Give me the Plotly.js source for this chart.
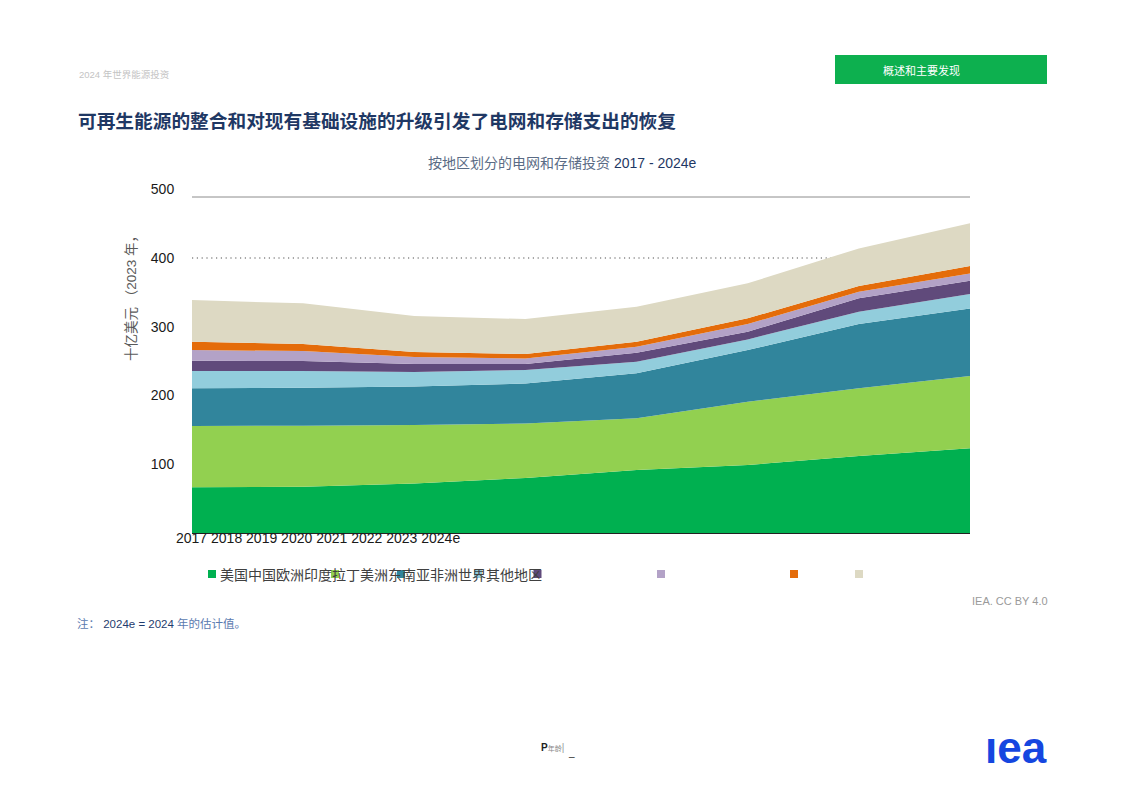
<!DOCTYPE html>
<html><head><meta charset="utf-8">
<script src="https://cdn.plot.ly/plotly-3.0.1.min.js"></script>
<style>html,body{margin:0;padding:0;background:#fff}#chart{width:1123px;height:794px}</style>
</head><body><div id="chart"></div>
<script>
// ---- data (USD billion, 2023) ----
const years = ['2017','2018','2019','2020','2021','2022','2023','2024e'];
const regions = ['美国','中国','欧洲','印度','拉丁美洲','东南亚','非洲','世界其他地区'];
const usa    = [66.5, 67.3, 72.0, 80.0, 91.6, 98.9, 112.0, 123.2];
const china  = [89.1, 88.8, 85.1, 79.3, 75.2, 92.1, 98.5, 105.2];
const europe = [54.9, 55.2, 56.0, 58.2, 65.5, 75.2, 93.5, 98.4];
const india  = [25.1, 24.3, 21.1, 19.6, 16.9, 15.5, 17.9, 20.8];
const latam  = [15.0, 14.6, 11.6, 8.7, 13.1, 11.1, 19.5, 19.4];
const sea    = [15.6, 14.5, 10.2, 8.0, 8.7, 11.2, 9.6, 10.7];
const africa = [12.1, 10.2, 7.3, 6.6, 7.3, 8.3, 8.3, 10.7];
const row    = [60.6, 59.2, 52.3, 50.9, 50.9, 50.9, 54.8, 62.1];
const yTicks = [100, 200, 300, 400, 500];

const series = [usa, china, europe, india, latam, sea, africa, row];
const colors = ['#00B050','#92D050','#31859C','#92CDDC','#604A7B','#B3A2C7','#E46C0A','#DDD9C3'];

// plot-area geometry in page pixels
const W = 1123, H = 794, L = 192, R = 970, T = 189, B = 533;
const px = x => (x - L) / (R - L);
const py = y => (B - y) / (B - T);

const traces = series.map((s, i) => ({
  type: 'scatter', x: years, y: s, name: regions[i],
  stackgroup: 'one', mode: 'none', fillcolor: colors[i],
  hoverinfo: 'skip', showlegend: false
}));

const CJK = 'Noto Sans CJK SC, Liberation Sans, sans-serif';
const LAT = 'Liberation Sans, Arial, Noto Sans CJK SC, sans-serif';

const legendX = [212, 335, 401, 478, 537.5, 661, 794, 859];
const shapes = [
  {type:'line', xref:'paper', yref:'paper', x0:0, x1:1, y0:py(197), y1:py(197), line:{color:'#8c8c8c', width:1}, layer:'below'},
  {type:'line', xref:'paper', yref:'y', x0:0, x1:1, y0:400, y1:400, line:{color:'#8a8a8a', width:1.4, dash:'1.2px,3.6px'}, layer:'below'},
  {type:'rect', xref:'paper', yref:'paper', x0:px(835), x1:px(1047), y0:py(84), y1:py(55), fillcolor:'#0DB04F', line:{width:0}, layer:'above'}
];
legendX.forEach((cx, i) => shapes.push({
  type:'rect', xref:'paper', yref:'paper', x0:px(cx-4), x1:px(cx+4), y0:py(578), y1:py(570),
  fillcolor: colors[i], line:{width:0}, layer:'above'
}));

const annotations = [
  {text:'2024 年世界能源投资', x:px(77), y:py(74), xanchor:'left', yanchor:'middle', font:{family:LAT, size:9.5, color:'#c4c4c4'}},
  {text:'概述和主要发现', x:px(881), y:py(70), xanchor:'left', yanchor:'middle', font:{family:CJK, size:11, color:'#ffffff'}},
  {text:'<b>可再生能源的整合和对现有基础设施的升级引发了电网和存储支出的恢复</b>', x:px(76), y:py(119), xanchor:'left', yanchor:'middle', font:{family:CJK, size:18.7, color:'#1F3864'}},
  {text:'<span style="color:#5a6b85">按地区划分的电网和存储投资</span> <span style="color:#1F3864">2017 - 2024e</span>', x:px(562), y:py(163), xanchor:'center', yanchor:'middle', font:{family:LAT, size:14}},
  {text:'十亿美元 （2023 年，', textangle:-90, x:px(131), y:py(295), xanchor:'center', yanchor:'middle', font:{family:LAT, size:13.5, color:'#595959'}},
  {text: years.join(' '), x:px(174), y:py(538), xanchor:'left', yanchor:'middle', font:{family:LAT, size:14, color:'#1a1a1a'}},
  {text: regions.join(''), x:px(218), y:py(574), xanchor:'left', yanchor:'middle', font:{family:CJK, size:14, color:'#404040'}},
  {text:'<span style="color:#5b7bb0">注：</span> <span style="color:#1F3C6E">2024e = 2024</span> <span style="color:#5b7bb0">年的估计值。</span>', x:px(75), y:py(623), xanchor:'left', yanchor:'middle', font:{family:LAT, size:11.5}},
  {text:'IEA. CC BY 4.0', x:px(1050), y:py(601), xanchor:'right', yanchor:'middle', font:{family:LAT, size:11, color:'#9a9a9a'}},
  {text:'<b>P</b><span style="font-size:7px;color:#888">年龄</span><span style="color:#999">|</span>', x:px(539), y:py(747), xanchor:'left', yanchor:'middle', font:{family:LAT, size:10, color:'#222'}},
  {text:'_', x:px(566), y:py(752), xanchor:'left', yanchor:'middle', font:{family:LAT, size:10, color:'#222'}},
  {text:'<b>ıea</b>', x:px(1016), y:py(747), xanchor:'center', yanchor:'middle', font:{family:LAT, size:44, color:'#1546E0'}}
].map(a => Object.assign({xref:'paper', yref:'paper', showarrow:false}, a));

const layout = {
  width: W, height: H,
  margin: {l: L, r: W - R, t: T, b: H - B, pad: 0},
  paper_bgcolor: '#ffffff', plot_bgcolor: '#ffffff',
  showlegend: false, hovermode: false,
  xaxis: {type:'category', range:[0, 7], showgrid:false, zeroline:false, showticklabels:false,
          showline:true, linecolor:'#222', linewidth:1, ticks:''},
  yaxis: {range:[0, 500.5], tickvals: yTicks, ticktext: yTicks.map(String), showgrid:false, zeroline:false,
          showline:false, ticks:'outside', ticklen:14, tickcolor:'rgba(0,0,0,0)',
          tickfont:{family:LAT, size:14, color:'#1a1a1a'}},
  shapes, annotations
};

Plotly.newPlot('chart', traces, layout, {displayModeBar:false, staticPlot:true});
</script></body></html>
